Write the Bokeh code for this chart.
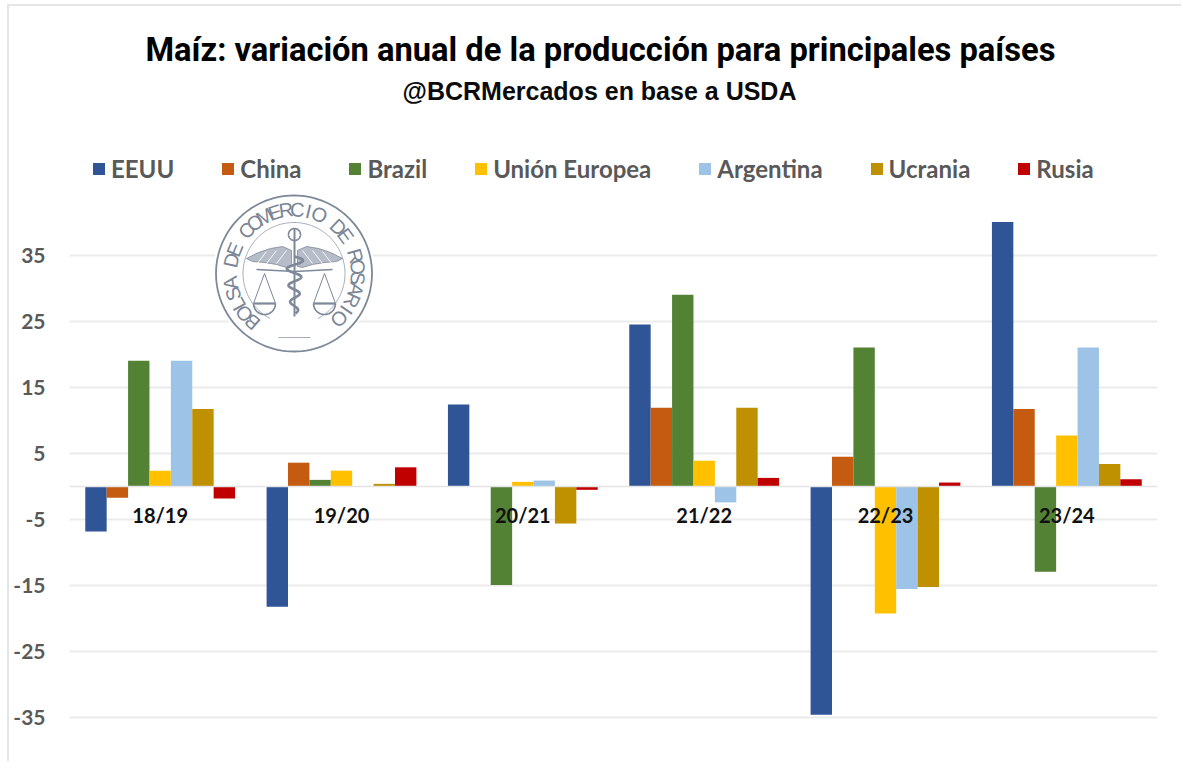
import math
from bokeh.core.properties import value
from bokeh.embed import file_html
from bokeh.models import (ColumnDataSource, FactorRange, FixedTicker, Label, Legend,
                          LegendItem, Range1d)
from bokeh.plotting import figure
from bokeh.resources import INLINE
from bokeh.transform import dodge

campaigns = ["18/19", "19/20", "20/21", "21/22", "22/23", "23/24"]
eeuu = [-6.8, -18.2, 12.4, 24.5, -34.5, 40.0]
china = [-1.7, 3.6, 0.0, 11.9, 4.5, 11.7]
brazil = [19.0, 1.0, -14.9, 29.0, 21.0, -12.9]
union_europea = [2.4, 2.4, 0.7, 3.9, -19.2, 7.7]
argentina = [19.0, 0.0, 0.9, -2.4, -15.5, 21.0]
ucrania = [11.7, 0.4, -5.6, 11.9, -15.2, 3.4]
rusia = [-1.8, 2.9, -0.5, 1.3, 0.6, 1.1]
y_ticks = [-35, -25, -15, -5, 5, 15, 25, 35]

names = ["EEUU", "China", "Brazil", "Unión Europea", "Argentina", "Ucrania", "Rusia"]
series = [eeuu, china, brazil, union_europea, argentina, ucrania, rusia]
colors = ["#2F5597", "#C55A11", "#548235", "#FFC000", "#9DC3E6", "#BF9000", "#C00000"]

PAGE_X0, PAGE_Y0 = 9, 6
W, H = 1174, 757
FRAME_L, FRAME_R, FRAME_T, FRAME_B = 69, 1157, PAGE_Y0, PAGE_Y0 + H
ZERO_PX, PX_PER_UNIT = 486.0, 6.614
GROUP_PX = (FRAME_R - FRAME_L) / len(campaigns)

p = figure(width=W, height=H, output_backend="svg", toolbar_location=None,
           x_range=FactorRange(factors=campaigns, factor_padding=0, range_padding=0),
           y_range=Range1d((FRAME_B - ZERO_PX) / -PX_PER_UNIT, (ZERO_PX - FRAME_T) / PX_PER_UNIT),
           min_border_left=FRAME_L - PAGE_X0, min_border_right=PAGE_X0 + W - FRAME_R,
           min_border_top=0, min_border_bottom=0, background_fill_color="white",
           border_fill_color="white", outline_line_color=None,
           margin=(6, 0, 0, 9))
p.styles = {"box-shadow": "-2px -2px 0 0 #e6e6e6"}

# pixel-aligned helpers for the decorative seal and headings


def fx(px):
    return (px - FRAME_L) / GROUP_PX


def fy(py):
    return (ZERO_PX - py) / PX_PER_UNIT


def L(xs, ys, **kw):
    p.line([fx(a) for a in xs], [fy(b) for b in ys], **kw)


p.xgrid.visible = False
p.ygrid.ticker = FixedTicker(ticks=y_ticks)
p.ygrid.grid_line_color = "#ebebeb"
p.ygrid.grid_line_width = 2

p.yaxis.ticker = FixedTicker(ticks=y_ticks)
p.yaxis.major_label_overrides = {v: str(v) for v in y_ticks}
p.yaxis.axis_line_color = None
p.yaxis.major_tick_line_color = None
p.yaxis.minor_tick_line_color = None
p.yaxis.major_label_standoff = 18
p.yaxis.major_label_text_font = "Lato"
p.yaxis.major_label_text_font_size = "21px"
p.yaxis.major_label_text_font_style = "bold"
p.yaxis.major_label_text_color = "#595959"

p.xaxis.fixed_location = 0
p.xaxis.axis_line_color = "#e4e4e4"
p.xaxis.axis_line_width = 1.5
p.xaxis.major_tick_line_color = None
p.xaxis.minor_tick_line_color = None
p.xaxis.major_label_standoff = 10
p.xaxis.major_label_text_font = "Lato"
p.xaxis.major_label_text_font_size = "20px"
p.xaxis.major_label_text_font_style = "bold"
p.xaxis.major_label_text_color = "#111111"

# ---- seal (decorative) ----
CX, CY, R_OUT = 293.5, 273.0, 78.0
SEAL = "#7d8899"
SEAL_L = "#a5adb9"


def arc(cx, cy, r, a0=0, a1=360, n=120):
    angs = [math.radians(a0 + (a1 - a0) * i / n) for i in range(n + 1)]
    return [cx + r * math.cos(a) for a in angs], [cy - r * math.sin(a) for a in angs]


xs, ys = arc(CX, CY, R_OUT + 3)
p.patch([fx(a) for a in xs], [fy(b) for b in ys], fill_color="white", line_color=None)
L(*arc(CX, CY, R_OUT), line_color=SEAL, line_width=1.8)
L(*arc(CX, CY, 51, -62, 242), line_color=SEAL_L, line_width=1)

seal_text = "BOLSA DE COMERCIO DE ROSARIO"
n_ch = len(seal_text)
th = [math.radians(229 - 274 * i / (n_ch - 1)) for i in range(n_ch)]
p.text(x=[fx(CX + 64 * math.cos(t)) for t in th], y=[fy(CY - 64 * math.sin(t)) for t in th],
       text=list(seal_text), angle=[t - math.pi / 2 for t in th],
       text_font=value("Liberation Sans"), text_font_size="20px", text_color="#7a8595",
       text_align="center", text_baseline="middle")

for sgn in (-1, 1):
    outer_x = [294 + sgn * d for d in (3, 12, 24, 36, 48)]
    outer_y = [250, 246, 248, 252, 258]
    inner_x = [294 + sgn * d for d in (42, 30, 18, 8, 3)]
    inner_y = [261, 262, 264, 267, 266]
    p.patch([fx(a) for a in outer_x + inner_x], [fy(b) for b in outer_y + inner_y],
            fill_color="#b6bdc8", line_color=SEAL, line_width=0.8)
    for d, h in ((12, 258), (22, 258), (32, 259)):
        L([294 + sgn * (d - 4), 294 + sgn * (d + 6)], [h - 8, h + 5],
          line_color="#ffffff", line_width=0.9)
    px_apex = 294 + sgn * 30
    L([294, 294 + sgn * 38], [271, 269], line_color=SEAL, line_width=1.6)
    L([px_apex - 11, px_apex, px_apex + 11], [303, 273, 303], line_color=SEAL, line_width=1)
    L(*arc(px_apex, 303, 11, 180, 360, 24), line_color=SEAL, line_width=1.6)
    L([px_apex - 11, px_apex + 11], [303, 303], line_color=SEAL, line_width=2.2)

L([294, 294], [228, 316], line_color=SEAL, line_width=2)
L(*arc(294, 234, 6), line_color=SEAL, line_width=1.6)
sy = [256 + i for i in range(0, 58)]
sx = [294 + (9 - 0.1 * i) * math.sin(i * 0.38) for i in range(0, 58)]
L(sx, sy, line_color=SEAL, line_width=2.6)
L([278, 310], [337, 337], line_color=SEAL_L, line_width=1)

# ---- bars ----
source = ColumnDataSource({"campaign": campaigns, **{n: v for n, v in zip(names, series)}})
bar_w = 21.4 / GROUP_PX
items = []
for i, (name, col) in enumerate(zip(names, colors)):
    r = p.vbar(x=dodge("campaign", (i - 3) * bar_w, range=p.x_range), top=name, bottom=0,
               width=bar_w, source=source, fill_color=col, line_color=None)
    items.append(LegendItem(label=name, renderers=[r]))

legend = Legend(items=items, orientation="horizontal", location=(91 - FRAME_L, FRAME_B - 183),
                spacing=46, padding=0, margin=0, glyph_width=15, glyph_height=15,
                label_standoff=5, label_text_font="Lato", label_text_font_size="24px",
                label_text_font_style="bold", label_text_color="#595959",
                background_fill_alpha=0, border_line_color=None)
p.add_layout(legend, "center")

p.add_layout(Label(x=fx(600), y=fy(49), text="Maíz: variación anual de la producción para principales países",
                   text_font="Roboto", text_font_size="32.7px", text_font_style="bold",
                   text_color="#000000", text_align="center", text_baseline="middle"))
p.add_layout(Label(x=fx(599), y=fy(90), text="@BCRMercados en base a USDA",
                   text_font="Liberation Sans", text_font_size="25px", text_font_style="bold",
                   text_color="#0b0b0b", text_align="center", text_baseline="middle"))

open("out.html", "w").write(file_html(p, INLINE))
